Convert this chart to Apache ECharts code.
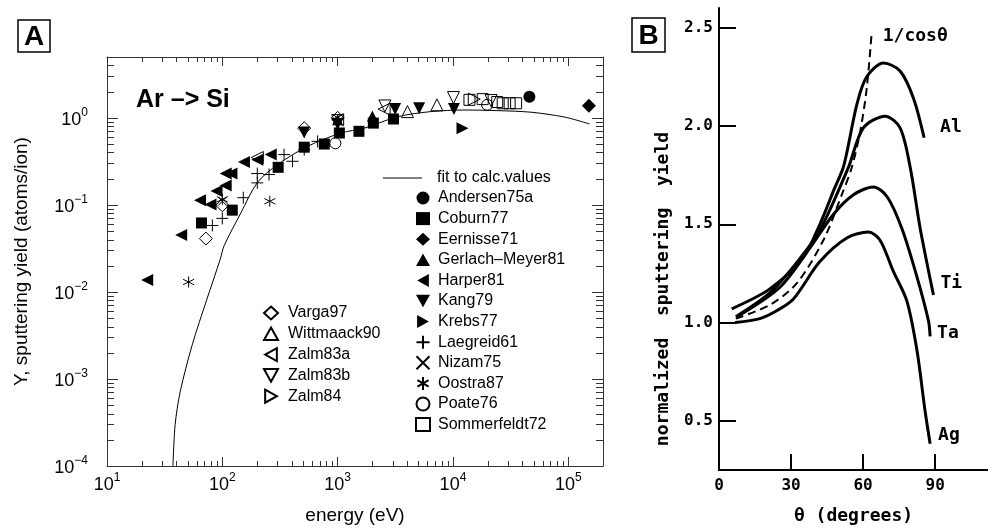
<!DOCTYPE html>
<html>
<head>
<meta charset="utf-8">
<title>Ar -> Si sputtering yield</title>
<script src="https://cdn.jsdelivr.net/npm/echarts@6/dist/echarts.min.js"></script>
<style>
  html, body { margin: 0; padding: 0; background: #fff; }
  #chart { width: 988px; height: 530px; }
</style>
</head>
<body>
<div id="chart"></div>
<script>
// ---- panel A: yield vs energy, [E (eV), Y (atoms/ion)] ----
var andersen75a = [[46000, 1.75]];
var coburn77 = [[66, 0.062], [122, 0.087], [305, 0.27], [513, 0.46], [766, 0.50], [1035, 0.67], [1530, 0.70], [2040, 0.87], [3050, 0.97]];
var eernisse71 = [[151000, 1.38]];
var gerlachMeyer81 = [[1000, 0.95], [2000, 1.05]];
var harper81 = [[22.3, 0.0137], [44, 0.045], [64, 0.113], [79, 0.101], [89, 0.144], [107, 0.167], [107, 0.229], [120, 0.229], [154, 0.311], [201, 0.331], [263, 0.378]];
var kang79 = [[513, 0.68], [1000, 0.85], [3150, 1.26], [5090, 1.29], [10200, 1.26]];
var krebs77 = [[12100, 0.76]];
var laegreid61 = [[82, 0.058], [100, 0.07], [152, 0.121], [201, 0.179], [201, 0.229], [254, 0.223], [343, 0.378], [406, 0.317], [513, 0.43], [670, 0.537]];
var nizam75 = [[100, 0.11], [1000, 0.98]];
var oostra87 = [[51, 0.013], [100, 0.116], [258, 0.11]];
var poate76 = [[955, 0.51], [19800, 1.41]];
var sommerfeldt72 = [[13900, 1.61], [18100, 1.64], [24200, 1.52], [27000, 1.47], [31000, 1.47], [35300, 1.47]];
var varga97 = [[72, 0.041], [100, 0.099], [513, 0.76], [1000, 1.0]];
var wittmaack90 = [[4030, 1.18], [7260, 1.41]];
var zalm83a = [[201, 0.35], [1000, 0.95], [2530, 1.26]];
var zalm83b = [[1000, 0.93], [2570, 1.37], [10100, 1.71], [21400, 1.58]];
var zalm84 = [[15300, 1.64]];

var fitE = [37.3, 39, 43.1, 54.5, 73.6, 96, 103.5, 145, 201, 301, 548, 1070, 1700, 3310, 6450, 12500, 24500, 47700, 92900, 153000];
var fitY = [1e-4, 3e-4, 7.1e-4, 2.4e-3, 8.3e-3, 0.0238, 0.0338, 0.081, 0.18, 0.29, 0.47, 0.67, 0.76, 1.03, 1.18, 1.23, 1.21, 1.16, 1.02, 0.85];

var energyTicks = [10, 100, 1000, 10000, 100000];
var yieldTicks = [1e-4, 1e-3, 1e-2, 1e-1, 1];

// ---- panel B: normalized yield vs angle ----
var thetaCos = [7, 21.2, 32.4, 43.5, 51.1, 55.3, 58.75, 61.5, 63.6];
var yieldCos = [1.02, 1.09, 1.20, 1.42, 1.65, 1.79, 1.97, 2.19, 2.48];
var thetaAl = [5.3, 21, 35, 42, 48, 52, 57.4, 61.5, 68.5, 75.4, 81, 85.4];
var yieldAl = [1.07, 1.17, 1.33, 1.50, 1.68, 1.80, 2.11, 2.25, 2.32, 2.28, 2.14, 1.94];
var thetaTi = [7, 21, 32, 42, 53.9, 60.1, 69.2, 75.4, 79.6, 83.75, 89.3];
var yieldTi = [1.03, 1.15, 1.30, 1.47, 1.79, 1.99, 2.05, 1.99, 1.79, 1.48, 1.14];
var thetaTa = [7.5, 25.4, 37.9, 47.6, 56, 64.3, 70, 76.1, 82, 87.2, 87.9];
var yieldTa = [1.03, 1.18, 1.38, 1.55, 1.65, 1.69, 1.64, 1.48, 1.25, 1.01, 0.93];
var thetaAg = [6.7, 17, 24, 31, 42, 53.2, 62.2, 67, 72.6, 78.2, 82.4, 85.8, 87.9];
var yieldAg = [1.0, 1.02, 1.06, 1.12, 1.31, 1.43, 1.46, 1.42, 1.26, 1.11, 0.86, 0.55, 0.384];
var angleTicks = [30, 60, 90];
var angleLabels = [0, 30, 60, 90];
var normTicks = [0.5, 1.0, 1.5, 2.0, 2.5];

// minor log ticks (2..9 of every decade)
var minorE = [], minorY = [];
energyTicks.forEach(function (d) {
  for (var k = 2; k <= 9; k++) if (d * k < 200000) minorE.push([d * k, 1]);
});
yieldTicks.forEach(function (d) {
  for (var k = 2; k <= 9; k++) if (d * k < 5) minorY.push([10, d * k]);
});

function pairs(xs, ys) {
  return xs.map(function (x, i) { return [x, ys[i]]; });
}

var black = '#000';
var frame = '#333';
var sans = '"Liberation Sans", Arial, sans-serif';
var mono = '"DejaVu Sans Mono", monospace';

var SYM = {
  up: 'path://M5,0L10,9L0,9Z',
  down: 'path://M0,0L10,0L5,9Z',
  left: 'path://M0,5L9,0L9,10Z',
  right: 'path://M0,0L9,5L0,10Z',
  plus: 'path://M5,0L5,10M0,5L10,5',
  cross: 'path://M0,0L10,10M0,10L10,0',
  star: 'path://M5,0L5,10M0.7,2.5L9.3,7.5M0.7,7.5L9.3,2.5'
};

function pts(name, data, symbol, filled, size) {
  return {
    type: 'scatter', name: name, data: data,
    xAxisIndex: 0, yAxisIndex: 0,
    symbol: symbol, symbolSize: size || 11,
    itemStyle: filled
      ? { color: black, borderColor: black, borderWidth: 0, opacity: 1 }
      : { color: 'rgba(0,0,0,0)', borderColor: black, borderWidth: 1, opacity: 1 },
    emphasis: { disabled: true },
    z: 3
  };
}

function curve(name, data, dashed, off) {
  return {
    type: 'line', name: name, data: data,
    xAxisIndex: 2, yAxisIndex: 2,
    smooth: 0.3, symbol: 'none',
    lineStyle: { color: black, width: dashed ? 2 : 3, type: dashed ? [8, 5] : 'solid' },
    endLabel: {
      show: true, formatter: name, color: black, distance: 5, offset: off,
      fontFamily: mono, fontSize: 18, fontWeight: 'bold'
    },
    emphasis: { disabled: true }
  };
}

function powLabel(v) {
  var e = Math.round(Math.log10(v));
  return '{b|10}{s|' + String(e).replace('-', '\u2212') + '}';
}
var powRich = {
  b: { fontSize: 18, fontFamily: sans, color: black, verticalAlign: 'bottom', lineHeight: 22 },
  s: { fontSize: 12, fontFamily: sans, color: black, verticalAlign: 'top', lineHeight: 22 }
};

var logAxisBase = {
  type: 'log', logBase: 10,
  axisLine: { lineStyle: { color: frame, width: 1 } },
  axisTick: { inside: true, length: 9, lineStyle: { color: frame } },
  splitLine: { show: false }
};

var chart = echarts.init(document.getElementById('chart'));

var option = {
  animation: false,
  backgroundColor: '#fff',
  grid: [
    { left: 107, top: 57, width: 496, height: 411 },
    { left: 719, top: 8, width: 269, height: 463 }
  ],
  xAxis: [
    Object.assign({}, logAxisBase, {
      gridIndex: 0, min: 10, max: 200000, position: 'bottom',
      name: 'energy (eV)', nameLocation: 'middle', nameGap: 40,
      nameTextStyle: { fontFamily: sans, fontSize: 19, color: black },
      axisTick: Object.assign({}, logAxisBase.axisTick, { customValues: energyTicks }),
      axisLabel: { customValues: energyTicks, margin: 6, formatter: powLabel, rich: powRich }
    }),
    Object.assign({}, logAxisBase, {
      gridIndex: 0, min: 10, max: 200000, position: 'top',
      axisTick: Object.assign({}, logAxisBase.axisTick, { customValues: energyTicks }),
      axisLabel: { show: false }
    }),
    {
      type: 'value', gridIndex: 1, min: 0, max: 112,
      name: '\u03b8 (degrees)', nameLocation: 'middle', nameGap: 37,
      nameTextStyle: { fontFamily: mono, fontSize: 18, fontWeight: 'bold', color: black },
      axisLine: { lineStyle: { color: black, width: 2 } },
      axisTick: { inside: true, length: 16, customValues: angleTicks, lineStyle: { color: black, width: 2 } },
      axisLabel: { customValues: angleLabels, margin: 8, fontFamily: mono, fontSize: 16, fontWeight: 'bold', color: black },
      splitLine: { show: false }
    }
  ],
  yAxis: [
    Object.assign({}, logAxisBase, {
      gridIndex: 0, min: 1e-4, max: 5, position: 'left',
      name: 'Y, sputtering yield (atoms/ion)', nameLocation: 'middle', nameGap: 76,
      nameTextStyle: { fontFamily: sans, fontSize: 19, color: black },
      axisTick: Object.assign({}, logAxisBase.axisTick, { customValues: yieldTicks, length: 11 }),
      axisLabel: { customValues: yieldTicks, margin: 19, formatter: powLabel, rich: powRich }
    }),
    Object.assign({}, logAxisBase, {
      gridIndex: 0, min: 1e-4, max: 5, position: 'right',
      axisTick: Object.assign({}, logAxisBase.axisTick, { customValues: yieldTicks, length: 11 }),
      axisLabel: { show: false }
    }),
    {
      type: 'value', gridIndex: 1, min: 0.25, max: 2.6,
      name: 'normalized  sputtering  yield', nameLocation: 'middle', nameGap: 47,
      nameTextStyle: { fontFamily: mono, fontSize: 18, fontWeight: 'bold', color: black, padding: [0, 100, 0, 0] },
      axisLine: { lineStyle: { color: black, width: 2 } },
      axisTick: { inside: true, length: 17, customValues: normTicks, lineStyle: { color: black, width: 2 } },
      axisLabel: {
        customValues: normTicks, margin: 6, fontFamily: mono, fontSize: 16, fontWeight: 'bold', color: black,
        formatter: function (v) { return v.toFixed(1); }
      },
      splitLine: { show: false }
    }
  ],
  legend: [
    {
      data: [{ name: 'fit to calc.values', icon: 'path://M0,0L40,0L40,1L0,1Z' }],
      left: 383, top: 170, padding: 0,
      itemWidth: 39, itemHeight: 14, selectedMode: false,
      textStyle: { fontFamily: sans, fontSize: 16, color: black, padding: [0, 0, 0, 10] }
    },
    {
      data: ['Andersen75a', 'Coburn77', 'Eernisse71', 'Gerlach\u2013Meyer81', 'Harper81', 'Kang79', 'Krebs77',
        'Laegreid61', 'Nizam75', 'Oostra87', 'Poate76', 'Sommerfeldt72'],
      orient: 'vertical', left: 415, top: 190, padding: 0,
      itemWidth: 14, itemHeight: 13, itemGap: 4.6, selectedMode: false,
      textStyle: { fontFamily: sans, fontSize: 16, color: black, padding: [0, 0, 0, 3] }
    },
    {
      data: ['Varga97', 'Wittmaack90', 'Zalm83a', 'Zalm83b', 'Zalm84'],
      orient: 'vertical', left: 263, top: 305, padding: 0,
      itemWidth: 14, itemHeight: 13, itemGap: 4.8, selectedMode: false,
      textStyle: { fontFamily: sans, fontSize: 16, color: black, padding: [0, 0, 0, 5] }
    }
  ],
  graphic: [
    { type: 'rect', shape: { x: 18, y: 20, width: 32, height: 32 }, style: { fill: '#fff', stroke: black, lineWidth: 1.5 } },
    { type: 'text', style: { text: 'A', x: 34, y: 37, align: 'center', verticalAlign: 'middle', font: 'bold 28px "Liberation Sans", Arial', fill: black } },
    { type: 'rect', shape: { x: 632, y: 18, width: 33, height: 34 }, style: { fill: '#fff', stroke: black, lineWidth: 1.5 } },
    { type: 'text', style: { text: 'B', x: 648.5, y: 36, align: 'center', verticalAlign: 'middle', font: 'bold 28px "Liberation Sans", Arial', fill: black } },
    { type: 'text', style: { text: 'Ar \u2013> Si', x: 136, y: 100, verticalAlign: 'middle', font: 'bold 25px "Liberation Sans", Arial', fill: black } }
  ],
  series: [
    {
      type: 'line', name: 'fit to calc.values', data: pairs(fitE, fitY),
      xAxisIndex: 0, yAxisIndex: 0, smooth: 0.3, symbol: 'none', showSymbol: false,
      itemStyle: { color: black },
      lineStyle: { color: black, width: 1 }, emphasis: { disabled: true }, z: 2
    },
    pts('Andersen75a', andersen75a, 'circle', true, 12),
    pts('Coburn77', coburn77, 'rect', true, 11),
    pts('Eernisse71', eernisse71, 'diamond', true, 14),
    pts('Gerlach\u2013Meyer81', gerlachMeyer81, SYM.up, true, 11),
    pts('Harper81', harper81, SYM.left, true, 12),
    pts('Kang79', kang79, SYM.down, true, 12),
    pts('Krebs77', krebs77, SYM.right, true, 12),
    pts('Laegreid61', laegreid61, SYM.plus, false, 12),
    pts('Nizam75', nizam75, SYM.cross, false, 9),
    pts('Oostra87', oostra87, SYM.star, false, 11),
    pts('Poate76', poate76, 'circle', false, 11),
    pts('Sommerfeldt72', sommerfeldt72, 'rect', false, 11),
    pts('Varga97', varga97, 'diamond', false, 13),
    pts('Wittmaack90', wittmaack90, SYM.up, false, 12),
    pts('Zalm83a', zalm83a, SYM.left, false, 12),
    pts('Zalm83b', zalm83b, SYM.down, false, 12),
    pts('Zalm84', zalm84, SYM.right, false, 12),
    {
      // minor ticks on bottom and top edges
      type: 'custom', xAxisIndex: 0, yAxisIndex: 0, data: minorE, silent: true, clip: false,
      renderItem: function (params, api) {
        var cs = params.coordSys;
        var x = Math.round(api.coord([api.value(0), api.value(1)])[0]) + 0.5;
        var b = cs.y + cs.height;
        return { type: 'group', children: [
          { type: 'line', shape: { x1: x, y1: b, x2: x, y2: b - 5 }, style: { stroke: frame, lineWidth: 1 } },
          { type: 'line', shape: { x1: x, y1: cs.y, x2: x, y2: cs.y + 5 }, style: { stroke: frame, lineWidth: 1 } }
        ] };
      }
    },
    {
      // minor ticks on left and right edges
      type: 'custom', xAxisIndex: 0, yAxisIndex: 0, data: minorY, silent: true, clip: false,
      renderItem: function (params, api) {
        var cs = params.coordSys;
        var y = Math.round(api.coord([api.value(0), api.value(1)])[1]) + 0.5;
        var r = cs.x + cs.width;
        return { type: 'group', children: [
          { type: 'line', shape: { x1: cs.x, y1: y, x2: cs.x + 7, y2: y }, style: { stroke: frame, lineWidth: 1 } },
          { type: 'line', shape: { x1: r, y1: y, x2: r - 7, y2: y }, style: { stroke: frame, lineWidth: 1 } }
        ] };
      }
    },
    curve('1/cos\u03b8', pairs(thetaCos, yieldCos), true, [6, 5]),
    curve('Al', pairs(thetaAl, yieldAl), false, [11, -10]),
    curve('Ti', pairs(thetaTi, yieldTi), false, [2, -12]),
    curve('Ta', pairs(thetaTa, yieldTa), false, [2, -3]),
    curve('Ag', pairs(thetaAg, yieldAg), false, [3, -8])
  ]
};

chart.setOption(option);
</script>
</body>
</html>
